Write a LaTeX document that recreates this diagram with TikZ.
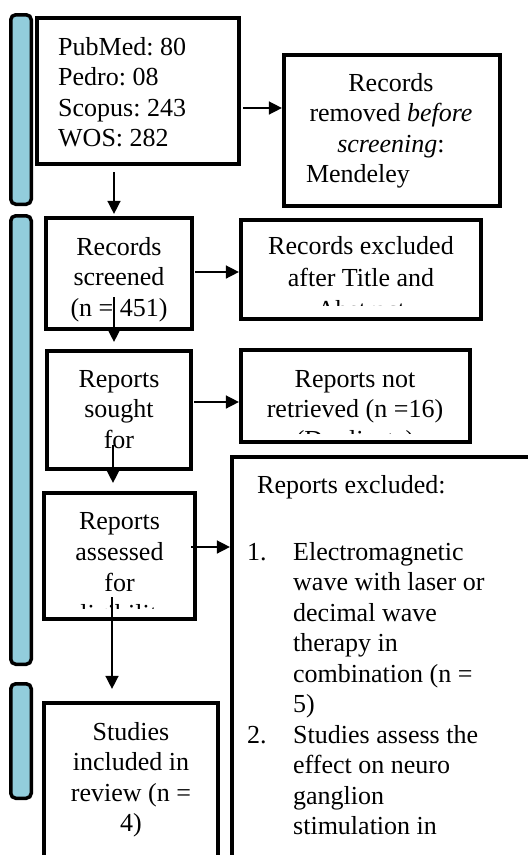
\documentclass[tikz,border=0pt]{standalone}
\usepackage{fontspec}
\setmainfont{Liberation Serif}
\usetikzlibrary{arrows.meta}
\definecolor{barblue}{HTML}{92CDDC}
\newcommand\mylines[2]{\begin{tabular}[t]{@{}#1@{}}#2\end{tabular}}
\frenchspacing
\begin{document}
\frenchspacing
\begin{tikzpicture}[x=1pt,y=-1pt,
  box/.style={draw, line width=4.2pt, inner sep=0pt},
  bar/.style={draw, line width=3.5pt, fill=barblue, rounded corners=5pt, minimum width=20.5pt, inner sep=0pt},
  txt/.style={font=\fontsize{26}{30.5}\selectfont\frenchspacing, inner sep=0pt},
  arr/.style={line width=1.5pt, -{Triangle[length=13pt,width=13pt]}}
]
\fill[white] (0,0) rectangle (528,855);
\clip (0,0) rectangle (528,855);

% side bars
\node[bar, minimum height=189.5pt] (bar1) at (21,109.5) {};
\node[bar, minimum height=448.5pt] (bar2) at (21,440) {};
\node[bar, minimum height=114.5pt] (bar3) at (21,741) {};

% boxes
\node[box, minimum width=202pt, minimum height=146pt] (ids) at (138,91) {};
\node[box, minimum width=216pt, minimum height=151pt] (removed) at (392,130.5) {};
\node[box, minimum width=146pt, minimum height=111pt] (screened) at (119,273.5) {};
\node[box, minimum width=240pt, minimum height=99pt] (excl1) at (361,269.5) {};
\node[box, minimum width=144pt, minimum height=118pt] (sought) at (119,410) {};
\node[box, minimum width=229pt, minimum height=92pt] (notret) at (355.5,396) {};
\node[box, minimum width=151pt, minimum height=126pt] (assessed) at (119.5,556) {};
\node[box, minimum width=324pt, minimum height=441pt] (excl2) at (394,677.5) {};
\node[box, minimum width=174pt, minimum height=194pt] (studies) at (131,800) {};

% texts (clipped to the text area of their boxes)
\begin{scope}
\clip (ids.north west) rectangle ([yshift=10pt]ids.south east);
\node[txt, anchor=base west] (tids) at (58,55) {\mylines{l}{PubMed: 80\\Pedro: 08\\Scopus: 243\\WOS: 282}};
\end{scope}
\begin{scope}
\clip (removed.north west) rectangle ([yshift=8pt]removed.south east);
\node[txt, anchor=base] (tremoved) at (391,91) {\mylines{c}{Records\\removed \textit{before}\\\textit{screening}:\\\makebox[166pt][l]{\hspace*{-2pt}Mendeley}}};
\end{scope}
\begin{scope}
\clip (screened.north west) rectangle ([yshift=9pt]screened.south east);
\node[txt, anchor=base] (tscreened) at (119,255) {\mylines{c}{Records\\screened\\(n = 451)}};
\end{scope}
\begin{scope}
\clip (excl1.north west) rectangle ([yshift=16pt]excl1.south east);
\node[txt, font=\fontsize{26}{32}\selectfont, anchor=base] (texcl1) at (361,254) {\mylines{c}{Records excluded\\after Title and\\Abstract}};
\end{scope}
\begin{scope}
\clip (sought.north west) rectangle ([yshift=13pt]sought.south east);
\node[txt, anchor=base] (tsought) at (119,387) {\mylines{c}{Reports\\sought\\for\\retrieval}};
\end{scope}
\begin{scope}
\clip (notret.north west) rectangle ([yshift=11pt]notret.south east);
\node[txt, anchor=base] (tnotret) at (355,387) {\mylines{c}{Reports not\\retrieved (n =16)\\(Duplicate)}};
\end{scope}
\begin{scope}
\clip (assessed.north west) rectangle ([yshift=13pt]assessed.south east);
\node[txt, font=\fontsize{26}{31}\selectfont, anchor=base] (tassessed) at (119.5,529) {\mylines{c}{Reports\\assessed\\for\\eligibility}};
\end{scope}
\begin{scope}
\clip (excl2.north west) rectangle (excl2.south east);
\node[txt, anchor=base west] (texcl2) at (247,493) {\begin{tabular}[t]{@{}p{46pt}@{}l@{}}
\multicolumn{2}{@{}l@{}}{\hspace*{10pt}Reports excluded:}\\[36.5pt]
1. & Electromagnetic\\
   & wave with laser or\\
   & decimal wave\\
   & therapy in\\
   & combination (n =\\
   & 5)\\
2. & Studies assess the\\
   & effect on neuro\\
   & ganglion\\
   & stimulation in
\end{tabular}};
\end{scope}
\begin{scope}
\clip (studies.north west) rectangle (studies.south east);
\node[txt, anchor=base] (tstudies) at (131,740) {\mylines{c}{Studies\\included in\\review (n =\\4)}};
\end{scope}

% connectors
\coordinate (c1) at (243,108);
\coordinate (c2) at (114,172);
\coordinate (c3) at (195,272);
\coordinate (c4) at (114,297);
\coordinate (c5) at (194,402);
\coordinate (c6) at (113,445);
\coordinate (c7) at (191,547);
\coordinate (c8) at (112,597);
\draw[arr] (c1) -- (removed.west |- c1);
\draw[arr, shorten >=2pt] (c2) -- (screened.north -| c2);
\draw[arr] (c3) -- (excl1.west |- c3);
\draw[arr, shorten >=7pt] (c4) -- (sought.north -| c4);
\draw[arr] (c5) -- (notret.west |- c5);
\draw[arr, shorten >=8pt] (c6) -- (assessed.north -| c6);
\draw[arr] (c7) -- (excl2.west |- c7);
\draw[arr, shorten >=12pt] (c8) -- (studies.north -| c8);
\end{tikzpicture}
\end{document}
